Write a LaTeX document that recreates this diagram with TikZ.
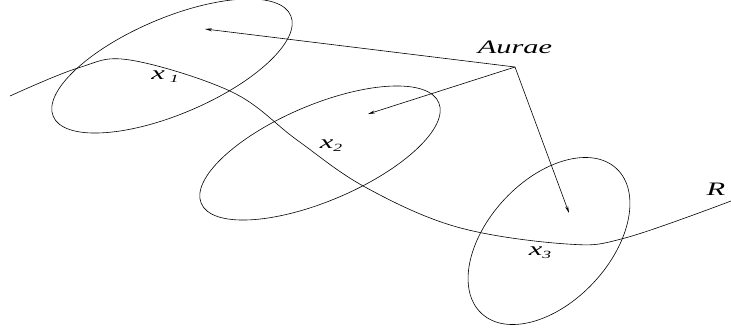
\documentclass[tikz,border=0pt]{standalone}
\usepackage{fontspec}
\setmainfont{Liberation Serif}
\usetikzlibrary{arrows.meta}
\newcommand{\subtxt}[1]{\raisebox{-3pt}{\fontsize{11}{12}\selectfont #1}}

\begin{document}
\begin{tikzpicture}[
    x=1pt, y=-1pt,
    line width=0.6pt,
    label/.style={font=\fontsize{19}{20}\selectfont\itshape, xscale=1.6, inner sep=0pt},
    arrow/.style={-{Stealth[length=7pt,width=3pt]}, line width=0.6pt}
]
    \useasboundingbox (0,0) rectangle (731,335);

    \coordinate (e1) at (172,66);
    \coordinate (e2) at (320,153);
    \coordinate (e3) at (549,241);
    \draw[shift={(e1)}, rotate=23] (0,0) ellipse [x radius=129, y radius=48];
    \draw[shift={(e2)}, rotate=23] (0,0) ellipse [x radius=129, y radius=48];
    \draw[shift={(e3)}, rotate=47] (0,0) ellipse [x radius=99, y radius=61];

    % the curve R
    \draw plot[smooth, tension=0.6] coordinates {(10,96) (78,68) (130,60) (232,92)
        (297,140) (365,187) (457,227) (567,244) (625,238) (731,201)};

    \node[label] (aurae) at (515,47) {Aurae};
    \node[label] (rname) at (716,189) {R};
    \node[label] (x1) at (165,77) {x\,\subtxt{1}};
    \node[label] (x2) at (331,146) {x\subtxt{2}};
    \node[label] (x3) at (540,253) {x\subtxt{3}};

    \coordinate (apex) at (515,67);
    \coordinate (t1) at (205,29);
    \coordinate (t2) at (368,114);
    \coordinate (t3) at (569,213);
    \draw[arrow] (apex) -- (t1);
    \draw[arrow] (apex) -- (t2);
    \draw[arrow] (apex) -- (t3);
\end{tikzpicture}
\end{document}
